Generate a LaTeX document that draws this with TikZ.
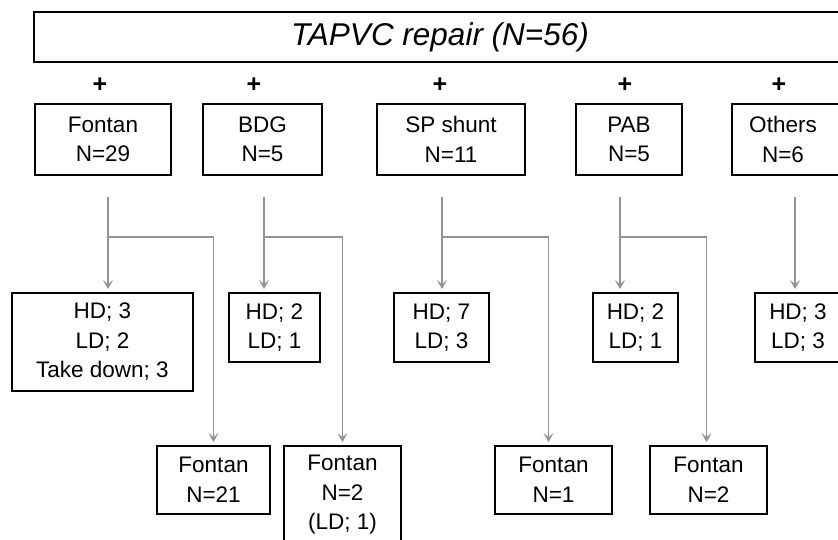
\documentclass[tikz,border=0pt]{standalone}
\usepackage{fontspec}
\setmainfont{Liberation Sans}
\usetikzlibrary{arrows.meta}

\tikzset{
  box/.style={draw, line width=1.8pt, align=center, inner sep=0pt,
    font=\fontsize{22.5}{29.5}\selectfont},
  plus/.style={font=\fontsize{25}{25}\selectfont\bfseries},
  link/.style={draw=black!42, line width=1.7pt,
    -{Stealth[length=9pt,width=10pt,inset=4pt]}, shorten >=3pt},
}

\begin{document}
\begin{tikzpicture}[x=1pt,y=-1pt]
  \useasboundingbox (0,0) rectangle (838,540);
  % top
  \node[box, minimum width=812pt, minimum height=50pt,
    font=\fontsize{31.5}{36}\selectfont\itshape] (tapvc) at (440,37) {TAPVC repair (N=56)};
  \node[plus] (p1) at (100,85) {+};
  \node[plus] (p2) at (254,85) {+};
  \node[plus] (p3) at (440,85) {+};
  \node[plus] (p4) at (625,85) {+};
  \node[plus] (p5) at (779,85) {+};
  % first operation
  \node[box, minimum width=136pt, minimum height=71pt] (fontan) at (103,139.5) {Fontan\\N=29};
  \node[box, minimum width=119pt, minimum height=71pt] (bdg) at (262.5,139.5) {BDG\\N=5};
  \node[box, minimum width=148pt, minimum height=71pt] (sp) at (451,139.5) {SP shunt\\N=11};
  \node[box, minimum width=106pt, minimum height=71pt] (pab) at (629,139.5) {PAB\\N=5};
  \draw[line width=1.8pt] (732,104) rectangle (848,175);
  \node[box, draw=none] (others) at (783,139.5) {Others\\N=6};
  % outcome
  \node[box, minimum width=181pt, minimum height=98pt] (hdfon) at (102.5,342) {HD; 3\\LD; 2\\Take down; 3};
  \node[box, minimum width=91pt, minimum height=69pt] (hdbdg) at (274.5,327.5) {HD; 2\\LD; 1};
  \node[box, minimum width=95pt, minimum height=69pt] (hdsp) at (441.5,327.5) {HD; 7\\LD; 3};
  \node[box, minimum width=85pt, minimum height=69pt] (hdpab) at (635.5,327.5) {HD; 2\\LD; 1};
  \node[box, minimum width=86pt, minimum height=69pt] (hdoth) at (798,327.5) {HD; 3\\LD; 3};
  % Fontan later
  \node[box, minimum width=113pt, minimum height=68pt] (fon21) at (213.5,480) {Fontan\\N=21};
  \node[box, minimum width=117pt, minimum height=98pt] (fon2b) at (342.5,495) {Fontan\\N=2\\(LD; 1)};
  \node[box, minimum width=117pt, minimum height=68pt] (fon1) at (553.5,480) {Fontan\\N=1};
  \node[box, minimum width=117pt, minimum height=68pt] (fon2p) at (708.5,480) {Fontan\\N=2};
  % arrows
  \coordinate (f0) at (108,197);  \coordinate (fj) at (108,237);
  \coordinate (b0) at (264,197);  \coordinate (bj) at (264,237);
  \coordinate (s0) at (442,197);  \coordinate (sj) at (442,237);
  \coordinate (a0) at (620,197);  \coordinate (aj) at (620,237);
  \coordinate (o0) at (795,197);
  \draw[link] (f0) -- (f0 |- hdfon.north);
  \draw[link] (fj) -| (fon21.north);
  \draw[link] (b0) -- (b0 |- hdbdg.north);
  \draw[link] (bj) -| (fon2b.north);
  \draw[link] (s0) -- (s0 |- hdsp.north);
  \draw[link] (sj) -| ([xshift=-5pt]fon1.north);
  \draw[link] (a0) -- (a0 |- hdpab.north);
  \draw[link] (aj) -| ([xshift=-2pt]fon2p.north);
  \draw[link] (o0) -- (o0 |- hdoth.north);
\end{tikzpicture}
\end{document}
